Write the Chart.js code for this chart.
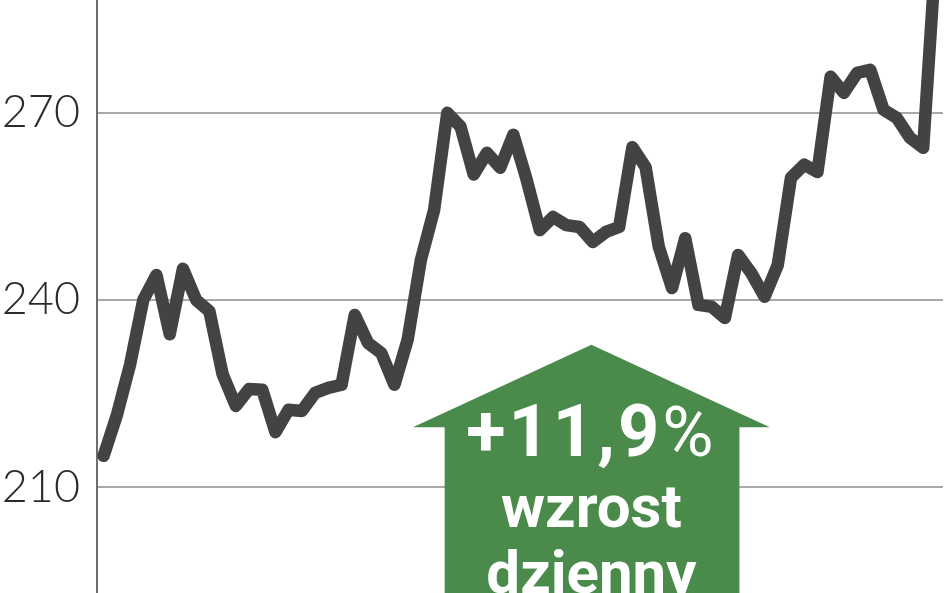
<!DOCTYPE html>
<html lang="pl">
<head>
<meta charset="utf-8">
<title>Kurs akcji</title>
<script src="https://cdn.jsdelivr.net/npm/chart.js@4/dist/chart.umd.min.js"></script>
<style>
  html, body { margin: 0; padding: 0; background: #fff; }
  #wrap { width: 948px; height: 593px; overflow: hidden; }
</style>
</head>
<body>
<div id="wrap"><canvas id="chart" width="948" height="593"></canvas></div>
<script>
// dane (sesje kolejno)
const prices = [
  215.0, 221.5, 229.6, 240.0, 244.0, 234.5, 245.0, 240.0, 238.2, 228.1,
  223.0, 225.7, 225.6, 218.8, 222.4, 222.2, 225.1, 225.9, 226.4, 237.6,
  233.1, 231.5, 226.4, 233.6, 246.4, 254.4, 270.0, 267.8, 260.1, 263.6,
  261.2, 266.5, 259.3, 251.2, 253.3, 252.0, 251.7, 249.3, 250.9, 251.7,
  264.5, 261.3, 248.5, 241.9, 249.9, 239.2, 238.9, 237.1, 247.2, 244.3,
  240.5, 245.6, 259.6, 261.7, 260.5, 275.8, 273.2, 276.4, 276.9, 270.5,
  269.2, 266.0, 264.4, 297.0
];
const sessions = prices.map((_, i) => i + 1);
const yTicks = [210, 240, 270];
const badgeLines = ['+11,9', '%', 'wzrost', 'dzienny'];

const yMin = 193;
const yMax = 288.1;

// strzałka ze wzrostem
const arrowPlugin = {
  id: 'arrow',
  afterDatasetsDraw(chart) {
    const ctx = chart.ctx;
    const xs = chart.scales.x;
    const ys = chart.scales.y;
    const px = v => xs.getPixelForValue(v);
    const apexX = px(36.9), apexY = ys.getPixelForValue(232.8);
    const shoulderY = ys.getPixelForValue(219.6);
    const tipL = px(23.4), tipR = px(50.4);
    const shaftL = px(25.8), shaftR = px(48.1);
    const bottom = chart.height + 2;

    ctx.save();
    ctx.fillStyle = '#4a8b4c';
    ctx.beginPath();
    ctx.moveTo(apexX, apexY);
    ctx.lineTo(tipR, shoulderY);
    ctx.lineTo(shaftR, shoulderY);
    ctx.lineTo(shaftR, bottom);
    ctx.lineTo(shaftL, bottom);
    ctx.lineTo(shaftL, shoulderY);
    ctx.lineTo(tipL, shoulderY);
    ctx.closePath();
    ctx.fill();

    ctx.fillStyle = '#fff';
    ctx.textBaseline = 'alphabetic';
    ctx.textAlign = 'left';
    // pierwsza linia: liczba pogrubiona, znak % cieńszy
    const bigBold = 'bold 72px Roboto, "Liberation Sans", sans-serif';
    const bigThin = '400 70px Roboto, "Liberation Sans", sans-serif';
    ctx.letterSpacing = '3px';
    ctx.font = bigBold;
    const w1 = ctx.measureText(badgeLines[0]).width;
    ctx.font = bigThin;
    const w2 = ctx.measureText(badgeLines[1]).width;
    let x0 = apexX - (w1 + w2) / 2;
    ctx.font = bigBold;
    ctx.fillText(badgeLines[0], x0, 456);
    ctx.font = bigThin;
    ctx.fillText(badgeLines[1], x0 + w1, 456);
    ctx.letterSpacing = '0px';

    ctx.textAlign = 'center';
    ctx.font = 'bold 60px Roboto, "Liberation Sans", sans-serif';
    ctx.fillText(badgeLines[2], apexX, 527);
    ctx.fillText(badgeLines[3], apexX, 593);
    ctx.restore();
  }
};

new Chart(document.getElementById('chart'), {
  type: 'line',
  data: {
    labels: sessions,
    datasets: [{
      data: prices,
      borderColor: '#434343',
      borderWidth: 12.5,
      borderJoinStyle: 'round',
      borderCapStyle: 'round',
      pointRadius: 0,
      tension: 0,
      fill: false
    }]
  },
  options: {
    responsive: false,
    devicePixelRatio: 1,
    animation: false,
    layout: { padding: { left: 0, right: 5, top: 0, bottom: 0 } },
    plugins: {
      legend: { display: false },
      tooltip: { enabled: false }
    },
    scales: {
      x: {
        display: false,
        offset: true
      },
      y: {
        min: yMin,
        max: yMax,
        afterBuildTicks: scale => {
          scale.ticks = yTicks.map(v => ({ value: v }));
        },
        afterFit: scale => {
          scale.width = 97;
          scale.paddingTop = 0;
          scale.paddingBottom = 0;
        },
        border: { display: true, color: '#6e6e6e', width: 2 },
        grid: {
          color: '#a9a9a9',
          lineWidth: 2,
          drawTicks: false
        },
        ticks: {
          padding: 17,
          color: '#2b2b2b',
          font: { family: 'Lato', weight: '300', size: 45 }
        }
      }
    }
  },
  plugins: [arrowPlugin]
});
</script>
</body>
</html>
